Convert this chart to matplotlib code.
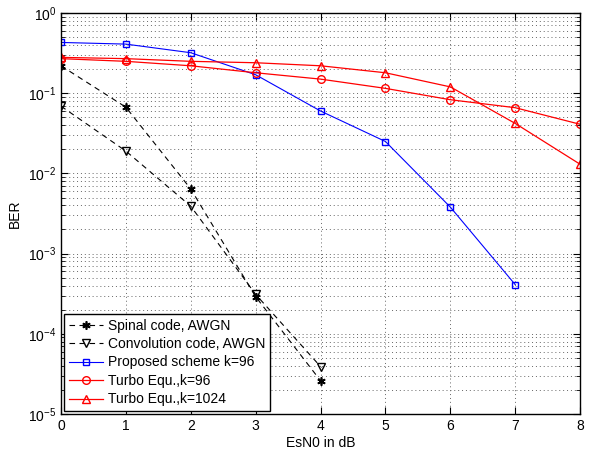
import matplotlib
matplotlib.use("Agg")
import matplotlib.pyplot as plt
import numpy as np

plt.rcParams["font.family"] = ["Liberation Sans", "DejaVu Sans"]

# EsN0 values (dB)
esn0 = [0, 1, 2, 3, 4, 5, 6, 7, 8]

spinal_ber = [0.22, 0.067, 0.0064, 2.9e-4, 2.6e-5]
conv_ber = [0.069, 0.019, 0.0039, 3.1e-4, 3.9e-5]
proposed_ber = [0.43, 0.41, 0.32, 0.17, 0.06, 0.025, 0.0038, 4.1e-4]
turbo96_ber = [0.27, 0.25, 0.22, 0.18, 0.15, 0.115, 0.083, 0.066, 0.041]
turbo1024_ber = [0.28, 0.27, 0.25, 0.24, 0.22, 0.18, 0.12, 0.042, 0.013]

labels = [
    "Spinal code, AWGN",
    "Convolution code, AWGN",
    "Proposed scheme k=96",
    "Turbo Equ.,k=96",
    "Turbo Equ.,k=1024",
]

fig = plt.figure(figsize=(5.92, 4.5), dpi=100)
ax = fig.add_axes([0.103, 0.08, 0.877, 0.891])

ax.semilogy(esn0[:len(spinal_ber)], spinal_ber, "k--", marker=(6, 2, 0),
            lw=0.8, ms=6, mew=1.2, dashes=(5, 4), label=labels[0])
ax.semilogy(esn0[:len(conv_ber)], conv_ber, "k--v", lw=0.8, ms=6,
            mfc="none", dashes=(5, 4), label=labels[1])
ax.semilogy(esn0[:len(proposed_ber)], proposed_ber, "-s", color="#0000ff",
            lw=0.8, ms=4.8, mfc="none", label=labels[2])
ax.semilogy(esn0, turbo96_ber, "-o", color="#ff0000", lw=0.9, ms=5.5,
            mfc="none", label=labels[3])
ax.semilogy(esn0, turbo1024_ber, "-^", color="#ff0000", lw=0.9, ms=6,
            mfc="none", label=labels[4])

ax.set_xlim(0, 8)
ax.set_ylim(1e-5, 1)
ax.set_xticks(range(0, 9))
ax.grid(True, which="major", ls=(0, (1, 3)), color="#666666", lw=0.7)
ax.grid(True, which="minor", ls=(0, (1, 3)), color="#666666", lw=0.7)
ax.tick_params(which="both", direction="in", top=True, right=True, labelsize=10)
ax.tick_params(which="major", length=5)
ax.tick_params(which="minor", length=3)
for s in ax.spines.values():
    s.set_linewidth(1.0)

ax.set_xlabel("EsN0 in dB", fontsize=10, labelpad=2)
ax.set_ylabel("BER", fontsize=10, labelpad=4)

leg = ax.legend(loc="lower left", fontsize=10, fancybox=False, framealpha=1,
                edgecolor="black", borderaxespad=0.2, handlelength=2.5,
                labelspacing=0.32, handletextpad=0.3, borderpad=0.35)
leg.get_frame().set_linewidth(1.0)

fig.savefig("out.png", dpi=100)
